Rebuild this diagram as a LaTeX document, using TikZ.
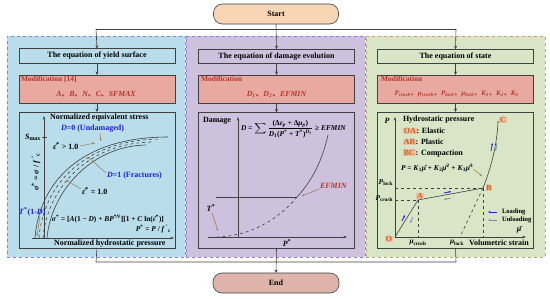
\documentclass[tikz,border=0pt]{standalone}
\usepackage{fontspec}
\setmainfont{Liberation Serif}
\newfontfamily\cjk{Noto Sans CJK SC}
\usepackage{amsmath}
\usetikzlibrary{arrows.meta}
\definecolor{panelblue}{HTML}{B9DDEA}
\definecolor{panelpurple}{HTML}{CDC1DE}
\definecolor{panelgreen}{HTML}{D8E5C6}
\definecolor{modfill}{HTML}{E8A9A0}
\definecolor{modtext}{HTML}{B5372A}
\definecolor{startfill}{HTML}{F8D5B4}
\definecolor{endfill}{HTML}{DEB3AA}
\definecolor{dashblue}{HTML}{8E80D6}
\definecolor{dashtan}{HTML}{C2A37F}
\definecolor{lineg}{HTML}{404040}
\definecolor{leadc}{HTML}{9A7A4A}
\definecolor{bluetxt}{HTML}{1E1EE0}
\definecolor{hlfill}{HTML}{F2BCA4}
\definecolor{hltext}{HTML}{C0661E}
\definecolor{unload}{HTML}{7F8FA0}
\newcommand\dun{{\cjk 、}}
\newcommand\sps[1]{\textsuperscript{#1}}
\newcommand\sbs[1]{\textsubscript{#1}}
\begin{document}
\begin{tikzpicture}[x=1pt,y=-1pt,
  every node/.style={inner sep=0pt, outer sep=0pt, font=\bfseries\fontsize{8}{9}\selectfont},
  terminal/.style={draw=lineg, line width=0.6pt, rounded corners=9pt, minimum width=125pt, minimum height=20pt},
  panelbox/.style={dashed, line width=0.8pt, minimum width=178pt, minimum height=221pt},
  titlebox/.style={draw=lineg, line width=0.6pt, minimum width=156pt, minimum height=14.5pt, font=\bfseries\fontsize{8}{9}\selectfont},
  modbox/.style={draw=lineg, line width=0.6pt, fill=modfill, minimum width=156pt, minimum height=28pt},
  graphbox/.style={draw=lineg, line width=0.6pt, minimum width=156pt, minimum height=136pt},
  flow/.style={draw=lineg, line width=0.6pt, -{Stealth[length=3.5pt,width=3pt]}},
  plain/.style={draw=lineg, line width=0.6pt},
  axis/.style={draw=lineg, line width=0.6pt, -{Stealth[length=3.5pt,width=2.5pt]}},
  curve/.style={draw=lineg, line width=0.6pt},
  leader/.style={draw=leadc, line width=0.5pt, -{Stealth[length=2.5pt,width=2pt]}},
  modlabel/.style={text=modtext, anchor=north west, font=\bfseries\fontsize{7.5}{8}\selectfont},
  modvars/.style={text=modtext, font=\bfseries\itshape\fontsize{7.8}{8}\selectfont},
  small/.style={font=\bfseries\fontsize{7.4}{8}\selectfont},
  legendtxt/.style={font=\bfseries\fontsize{6.6}{7}\selectfont},
  hl/.style={fill=hlfill, text=hltext, inner sep=0.8pt},
  ldarrow/.style={draw=bluetxt, line width=0.8pt, -{Stealth[length=2.5pt,width=2pt]}},
  ularrow/.style={draw=unload, line width=0.8pt, -{Stealth[length=2.5pt,width=2pt]}}
]
\useasboundingbox (0,0) rectangle (550,298);
\fill[white] (0,0) rectangle (550,298);

% panels
\node[panelbox, fill=panelblue, draw=dashblue, minimum width=178pt] (p1) at (96,146.5) {};
\node[panelbox, fill=panelpurple, draw=dashblue, minimum width=179pt] (p2) at (275.5,146.5) {};
\node[panelbox, fill=panelgreen, draw=dashtan, minimum width=179pt] (p3) at (455.5,146.5) {};

% start / end
\node[terminal, fill=startfill] (start) at (276,14) {Start};
\node[terminal, fill=endfill, minimum width=126pt] (end) at (276,283) {End};

% title boxes
\node[titlebox, fill=panelblue] (t1) at (97,56) {The equation of yield surface};
\node[titlebox, fill=panelpurple] (t2) at (276.5,56.5) {The equation of damage evolution};
\node[titlebox, fill=panelgreen] (t3) at (455.5,56.5) {The equation of state};

% modification boxes
\node[modbox] (m1) at (97,89) {};
\node[modbox] (m2) at (276.5,89) {};
\node[modbox] (m3) at (455.5,89) {};
\node[modlabel] (m1l) at (21,76) {Modification [14]};
\node[modlabel] (m2l) at (201,76) {Modification};
\node[modlabel] (m3l) at (381,76) {Modification};
\node[modvars] (m1v) at (96,94) {A\dun B\dun N\dun C\dun SFMAX};
\node[modvars] (m2v) at (276.5,94) {D\sbs{1}\dun D\sbs{2}\dun EFMIN};
\node[modvars, font=\bfseries\itshape\fontsize{7}{8}\selectfont] (m3v) at (456.5,94) {P\sbs{crush}\dun μ\sbs{crush}\dun P\sbs{lock}\dun μ\sbs{lock}\dun K\sbs{1}\dun K\sbs{2}\dun K\sbs{3}};

% graph boxes
\node[graphbox, fill=panelblue] (g1) at (97,180) {};
\node[graphbox, fill=panelpurple] (g2) at (276.5,180.5) {};
\node[graphbox, fill=panelgreen] (g3) at (455.5,180) {};

% flow connectors
\coordinate (tl) at (96,29);
\coordinate (tr) at (456,29);
\coordinate (bl) at (96,262);
\coordinate (br) at (456,262);
\draw[plain] (tl) -- (tr);
\draw[flow] (tl) -- (t1.north);
\draw[flow] (start.south) -- (t2.north);
\draw[flow] (tr) -- (t3.north);
\draw[flow] (t1.south) -- (m1.north);
\draw[flow] (t2.south) -- (m2.north);
\draw[flow] (t3.south) -- (m3.north);
\draw[flow] (m1.south) -- (g1.north);
\draw[flow] (m2.south) -- (g2.north);
\draw[flow] (m3.south) -- (g3.north);
\draw[plain] (g1.south) -- (bl) -- (br);
\draw[plain] (g3.south) -- (br);
\draw[flow] (g2.south) -- (end.north);

% ===== left graph =====
\coordinate (o1) at (44,238);
\coordinate (y1) at (44,116);
\coordinate (xa1) at (32,238);
\coordinate (xb1) at (174,238);
\draw[axis] (o1) -- (y1);
\draw[axis] (xa1) -- (xb1);
\node[anchor=west] (yl1) at (50,118) {Normalized equivalent stress};
\node[anchor=west, text=bluetxt] (d0) at (61,129) {\textit{D}=0 (Undamaged)};
\node[anchor=east] (smax) at (41,137) {\textit{S}\sbs{max}};
\draw[plain] (42,137) -- (47,137);
\node[anchor=west] (rate1) at (53,146) {\.{\textit{ε}}\sps{*} \textgreater{} 1.0};
\node[rotate=90] (sig) at (36,172) {\textit{σ}\sps{*} = \textit{σ} / \textit{f}\,\sps{\textquoteright}\sbs{c}};
\draw[curve] (35,238) .. controls (39,185) and (78,137) .. (168,137);
\draw[curve, dashed] (39,238) .. controls (43,187) and (82,140) .. (160,139);
\draw[curve, dashed] (43,238) .. controls (47,190) and (86,143) .. (152,142);
\draw[curve] (47,238) .. controls (51,193) and (90,146) .. (146,145);
\node[anchor=west, text=bluetxt] (d1) at (107,176) {\textit{D}=1 (Fractures)};
\node[anchor=west] (rate2) at (82,191) {\.{\textit{ε}}\sps{*} = 1.0};
\node[anchor=west, text=bluetxt] (tstar1) at (19,212) {\textit{T}\sps{*}(1-\textit{D})};
\node[anchor=west, small] (eq1) at (52,219) {\textit{σ}\sps{*} = [\textit{A}(1 − \textit{D}) + \textit{BP}\sps{*\textit{N}}][1 + \textit{C} ln(\.{\textit{ε}}\sps{*})]};
\node[anchor=east, small] (eq1b) at (171,229) {\textit{P}\sps{*} = \textit{P} / \textit{f}\,\sps{\textquoteright}\sbs{c}};
\node[anchor=west] (xl1) at (54,244) {Normalized hydrostatic pressure};
\coordinate (c1a) at (95,143);
\coordinate (c1b) at (101,141);
\coordinate (c1c) at (88,157);
\coordinate (c1d) at (66,180);
\coordinate (c1e) at (37,236);
\draw[leader] (rate1.east) ++(2,0) -- (c1a);
\draw[leader] (100,133) -- (c1b);
\draw[leader] (d1.west) ++(-1,-3) -- (c1c);
\draw[leader] (rate2.west) ++(-1,-2) -- (c1d);
\draw[leader] (40,216) -- (c1e);

% ===== middle graph =====
\draw[axis] (238,237) -- (238,117);
\draw[axis] (208,237) -- (347,237);
\node[anchor=west] (dmg) at (203,121) {Damage};
\node[anchor=west, small] (eq2) at (241,129) {\textit{D} = $\displaystyle\sum$\,$\dfrac{\text{(Δ\textit{ε}\sbs{\textit{p}} + Δ\textit{μ}\sbs{\textit{p}})}}{\text{\textit{D}\sbs{1}(\textit{P}\sps{*} + \textit{T}\sps{*})\sps{\textit{D}\sbs{2}}}}$ ≥ \textit{EFMIN}};
\coordinate (kink) at (297,197);
\draw[curve] (328,135) .. controls (322,162) and (311,182) .. (kink);
\draw[curve, dashed] (kink) .. controls (278,220) and (250,236) .. (217,237);
\draw[plain] (216,197) -- (kink);
\node[anchor=west, text=modtext, font=\bfseries\itshape\fontsize{8}{9}\selectfont] (efm) at (320,186) {EFMIN};
\draw[leader] (efm.west) ++(-1,3) -- (302,196);
\node (tstar2) at (211,208) {\textit{T}\sps{*}};
\draw[leader] (212,213) -- (218,231);
\node (pstar) at (287,243) {\textit{P}\sps{*}};

% ===== right graph =====
\coordinate (O) at (395,237);
\coordinate (A) at (418,200);
\coordinate (B) at (483,188);
\coordinate (C) at (498,122);
\draw[axis] (O) -- (395,117);
\draw[axis] (O) -- (526,237);
\node (Pax) at (387,121) {\textit{P}};
\node (mubar) at (519,230) {\={\textit{μ}}};
\node[anchor=west] (hp) at (403,120) {Hydrostatic pressure};
\node[anchor=west] (oa) at (403,131) {\tikz[baseline]\node[hl,anchor=base]{OA};: Elastic};
\node[anchor=west] (ab) at (403,142) {\tikz[baseline]\node[hl,anchor=base]{AB};: Plastic};
\node[anchor=west] (bc) at (403,153) {\tikz[baseline]\node[hl,anchor=base]{BC};: Compaction};
\node[anchor=west, small] (eq3) at (401,168) {\textit{P} = \textit{K}\sbs{1}\={\textit{μ}} + \textit{K}\sbs{2}\={\textit{μ}}\sps{2} + \textit{K}\sbs{3}\={\textit{μ}}\sps{3}};
\draw[leader] (eq3.east) ++(0,1) -- (482,176);
\draw[dashed, plain] (395,188) -- (B);
\draw[dashed, plain] (395,200) -- (A);
\draw[dashed, plain] (A) -- (418,237);
\draw[dashed, plain] (B) -- (483,237);
\draw[dashed, plain] (B) -- (460,237);
\draw[curve] (O) -- (A) -- (B);
\draw[curve] (B) .. controls (491,168) and (497,145) .. (C);
\node[anchor=east, small] (plock) at (393,183) {\textit{P}\sbs{lock}};
\node[anchor=east, small] (pcrush) at (393,199) {\textit{P}\sbs{crush}};
\node[hl] (lO) at (389,239) {O};
\node[hl] (lA) at (420,196) {A};
\node[hl] (lB) at (489,188) {B};
\node[hl] (lC) at (503,120) {C};
\fill[hltext] (C) circle (1pt);
\node[small] (mucr) at (418,243) {\textit{μ}\sbs{crush}};
\node[small] (mulk) at (457,243) {\textit{μ}\sbs{lock}};
\node[anchor=west] (vs) at (469,243) {Volumetric strain};
\draw[ldarrow] (497,212) -- (488,212);
\draw[ularrow] (497,220) -- (488,220);
\node[anchor=west, legendtxt] (ld) at (502,212) {Loading};
\node[anchor=west, legendtxt] (uld) at (502,220) {Unloading};
\draw[ldarrow] (402,221) -- (405,215);
\draw[ularrow] (413,217) -- (410,223);
\draw[ldarrow] (444,193) -- (451,191.5);
\draw[ularrow] (451,198) -- (444,199.5);
\draw[ldarrow] (491,151) -- (492.5,143);
\draw[ularrow] (497,143) -- (495.5,151);
\end{tikzpicture}
\end{document}
